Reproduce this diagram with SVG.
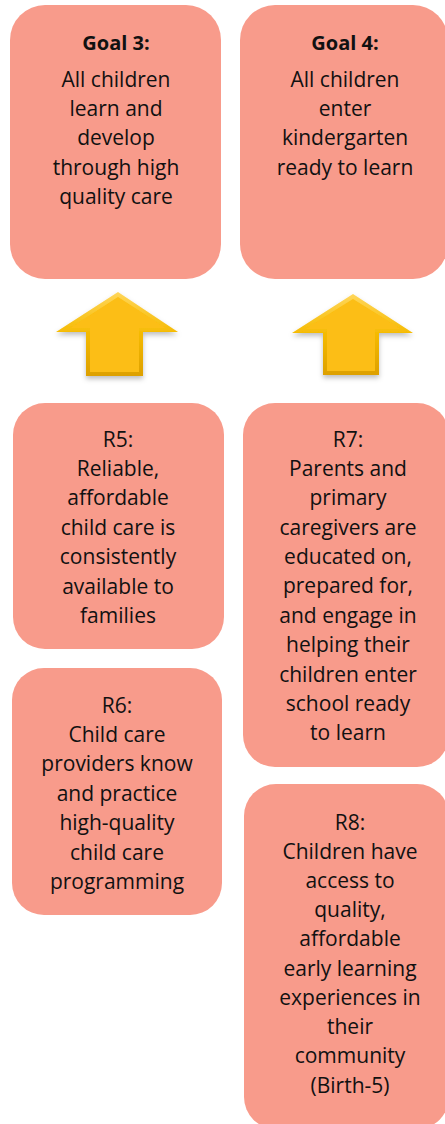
<svg xmlns="http://www.w3.org/2000/svg" width="445" height="1124" viewBox="0 0 445 1124">
<style>
.box{fill:#F89B8B;}
.t{font-family:"Open Sans","Liberation Sans",sans-serif;font-size:21px;fill:#111;text-anchor:middle;}
.b{font-weight:bold;font-size:20px;}
.arO{fill:url(#bev);}
.arI{fill:#FCBE12;}
</style>
<defs>
<linearGradient id="bev" x1="0" y1="0" x2="0" y2="1">
<stop offset="0" stop-color="#FFD65A"/>
<stop offset="0.5" stop-color="#F5BA00"/>
<stop offset="1" stop-color="#DDA000"/>
</linearGradient>
<filter id="sh" x="-20%" y="-20%" width="140%" height="150%">
<feDropShadow dx="0" dy="3" stdDeviation="2.5" flood-color="#000" flood-opacity="0.25"/>
</filter>
</defs>
<rect width="445" height="1124" fill="#fff"/>
<g id="goal3">
<rect class="box" x="10" y="5" width="211" height="274" rx="35"/>
<text class="t b" x="116" y="50">Goal 3:</text>
<text class="t" x="116" y="87">All children</text>
<text class="t" x="116" y="116">learn and</text>
<text class="t" x="116" y="145">develop</text>
<text class="t" x="116" y="175">through high</text>
<text class="t" x="116" y="204">quality care</text>
</g>
<g id="goal4">
<rect class="box" x="240" y="5" width="208" height="274" rx="35"/>
<text class="t b" x="345" y="50">Goal 4:</text>
<text class="t" x="345" y="87">All children</text>
<text class="t" x="345" y="116">enter</text>
<text class="t" x="345" y="145">kindergarten</text>
<text class="t" x="345" y="175">ready to learn</text>
</g>
<g id="r5">
<rect class="box" x="13" y="403" width="211" height="246" rx="32"/>
<text class="t" x="118" y="447">R5:</text>
<text class="t" x="118" y="476">Reliable,</text>
<text class="t" x="118" y="505">affordable</text>
<text class="t" x="118" y="535">child care is</text>
<text class="t" x="118" y="564">consistently</text>
<text class="t" x="118" y="594">available to</text>
<text class="t" x="118" y="623">families</text>
</g>
<g id="r6">
<rect class="box" x="12" y="668" width="210" height="247" rx="32"/>
<text class="t" x="117" y="713">R6:</text>
<text class="t" x="117" y="742">Child care</text>
<text class="t" x="117" y="771">providers know</text>
<text class="t" x="117" y="801">and practice</text>
<text class="t" x="117" y="830">high-quality</text>
<text class="t" x="117" y="860">child care</text>
<text class="t" x="117" y="889">programming</text>
</g>
<g id="r7">
<rect class="box" x="243" y="403" width="206" height="364" rx="32"/>
<text class="t" x="348" y="447">R7:</text>
<text class="t" x="348" y="476">Parents and</text>
<text class="t" x="348" y="505">primary</text>
<text class="t" x="348" y="535">caregivers are</text>
<text class="t" x="348" y="564">educated on,</text>
<text class="t" x="348" y="593">prepared for,</text>
<text class="t" x="348" y="623">and engage in</text>
<text class="t" x="348" y="652">helping their</text>
<text class="t" x="348" y="682">children enter</text>
<text class="t" x="348" y="711">school ready</text>
<text class="t" x="348" y="740">to learn</text>
</g>
<g id="r8">
<rect class="box" x="244" y="784" width="205" height="345" rx="32"/>
<text class="t" x="350" y="830">R8:</text>
<text class="t" x="350" y="859">Children have</text>
<text class="t" x="350" y="888">access to</text>
<text class="t" x="350" y="917">quality,</text>
<text class="t" x="350" y="946">affordable</text>
<text class="t" x="350" y="976">early learning</text>
<text class="t" x="350" y="1005">experiences in</text>
<text class="t" x="350" y="1034">their</text>
<text class="t" x="350" y="1063">community</text>
<text class="t" x="350" y="1093">(Birth-5)</text>
</g>
<g id="connectors">
<g filter="url(#sh)">
<polygon class="arO" points="118,292 178,332 143,332 143,376 86,376 86,332 56,332"/>
<polygon class="arI" points="118,297 166,328 139,328 139,372 90,372 90,328 70,328"/>
</g>
<g filter="url(#sh)">
<polygon class="arO" points="353,294 413,333 379,333 379,375 323,375 323,333 292,333"/>
<polygon class="arI" points="353,299 401,329 375,329 375,371 327,371 327,329 305,329"/>
</g>
</g>
</svg>
